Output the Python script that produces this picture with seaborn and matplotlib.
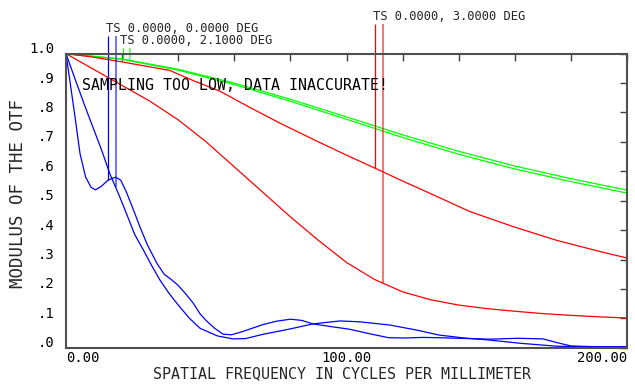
import numpy as np
import pandas as pd
import matplotlib
matplotlib.use("Agg")
import matplotlib.pyplot as plt
from matplotlib.transforms import ScaledTranslation
import seaborn as sns

# ---------------- data ----------------
freq_blue_a = [0, 1.5, 3.2, 5, 7, 9, 10.5, 12.5, 15, 17.7, 19.5, 21.5, 24, 26.4, 29, 32.4,
               35, 37.5, 40, 42.5, 45.4, 47.8, 50, 53, 56, 59, 63, 70, 75, 80, 84, 88, 95,
               101, 108, 115, 121, 127, 133, 140, 151, 161, 170, 176, 180, 190, 200]
mtf_blue_a = [1.0, 0.9, 0.786, 0.66, 0.58, 0.545, 0.537, 0.548, 0.57, 0.58, 0.57, 0.53, 0.47,
              0.41, 0.35, 0.287, 0.25, 0.232, 0.212, 0.185, 0.151, 0.115, 0.092, 0.066, 0.046,
              0.044, 0.055, 0.078, 0.09, 0.097, 0.093, 0.081, 0.071, 0.063, 0.048, 0.034,
              0.033, 0.035, 0.034, 0.032, 0.029, 0.032, 0.03, 0.015, 0.006, 0.003, 0.003]

freq_blue_b = [0, 3, 7, 10, 12.7, 15.7, 19.3, 21.6, 24.5, 27.6, 30.5, 33.5, 36.5, 39.5, 44,
               47.8, 54, 59.5, 64, 70, 80, 88, 97.7, 104.8, 115.5, 125, 133, 142, 151, 162,
               175, 185, 200]
mtf_blue_b = [1.0, 0.92, 0.815, 0.74, 0.672, 0.59, 0.51, 0.455, 0.385, 0.332, 0.28, 0.23,
              0.188, 0.151, 0.1, 0.066, 0.04, 0.03, 0.031, 0.045, 0.064, 0.081, 0.091, 0.088,
              0.077, 0.06, 0.043, 0.033, 0.026, 0.015, 0.005, 0.003, 0.003]

freq_green = [0, 20, 40, 60, 80, 100, 120, 140, 160, 180, 200]
mtf_green_t = [1.0, 0.982, 0.947, 0.9, 0.845, 0.785, 0.724, 0.668, 0.618, 0.575, 0.536]
mtf_green_s = [1.0, 0.981, 0.944, 0.895, 0.838, 0.777, 0.715, 0.658, 0.608, 0.565, 0.526]

freq_red_t = [0, 10, 20, 30, 37, 45, 55, 65, 76, 90, 100, 111, 120, 130, 144, 160, 175, 190, 200]
mtf_red_t = [1.0, 0.988, 0.972, 0.955, 0.943, 0.91, 0.872, 0.82, 0.765, 0.70, 0.655, 0.607,
             0.567, 0.524, 0.463, 0.41, 0.365, 0.328, 0.305]

freq_red_s = [0, 10, 20, 30, 40, 50, 60, 70, 80, 90, 100, 110, 120, 130, 140, 150, 160,
              170, 180, 190, 200]
mtf_red_s = [1.0, 0.946, 0.892, 0.838, 0.775, 0.7, 0.615, 0.53, 0.445, 0.365, 0.29, 0.232,
             0.19, 0.163, 0.145, 0.133, 0.124, 0.116, 0.11, 0.105, 0.101]

field_labels = ["TS 0.0000, 0.0000 DEG", "TS 0.0000, 2.1000 DEG", "TS 0.0000, 3.0000 DEG"]
marker_freq = {"blue": [15.1, 17.7], "green": [20.2, 22.8], "red": [110.3, 112.9]}

x_ticks = [0, 20, 40, 60, 80, 100, 120, 140, 160, 180, 200]
x_tick_labels = ["0.00", "", "", "", "", "100.00", "", "", "", "", "200.00"]
y_ticks = [0.0, 0.1, 0.2, 0.3, 0.4, 0.5, 0.6, 0.7, 0.8, 0.9, 1.0]
y_tick_labels = [".0", ".1", ".2", ".3", ".4", ".5", ".6", ".7", ".8", ".9", "1.0"]

note_text = "SAMPLING TOO LOW, DATA INACCURATE!"
x_label = "SPATIAL FREQUENCY IN CYCLES PER MILLIMETER"
y_label = "MODULUS OF THE OTF"

# ---------------- build long table ----------------
curves = [
    ("blue_a", freq_blue_a, mtf_blue_a),
    ("blue_b", freq_blue_b, mtf_blue_b),
    ("green_t", freq_green, mtf_green_t),
    ("green_s", freq_green, mtf_green_s),
    ("red_t", freq_red_t, mtf_red_t),
    ("red_s", freq_red_s, mtf_red_s),
]
df = pd.concat([pd.DataFrame({"freq": f, "mtf": m, "curve": n}) for n, f, m in curves],
               ignore_index=True)
palette = {"blue_a": "#0000ff", "blue_b": "#0000ff", "green_t": "#00ff00",
           "green_s": "#00ff00", "red_t": "#ff0000", "red_s": "#ff0000"}

# ---------------- figure ----------------
sns.set_theme(style="white")
plt.rcParams["font.family"] = ["DejaVu Sans Mono", "DejaVu Sans"]

W, H = 635, 385
fig = plt.figure(figsize=(W / 100, H / 100), dpi=100)
fig.patch.set_facecolor("white")
ax = fig.add_axes([66 / W, 1 - 347.7 / H, (627 - 66) / W, (347.7 - 53.7) / H])

sns.lineplot(data=df, x="freq", y="mtf", hue="curve", palette=palette, estimator=None,
             sort=False, legend=False, linewidth=0.9, ax=ax)

ax.set_xlim(0, 200)
ax.set_ylim(0, 1.0)
ax.set_xlabel("")
ax.set_ylabel("")

# ticks
ax.set_xticks(x_ticks)
xt = ax.set_xticklabels(x_tick_labels, fontsize=10)
xt[0].set_ha("left")
xt[-1].set_ha("right")
ax.set_yticks(y_ticks)
ax.set_yticklabels(y_tick_labels, fontsize=10)
ax.tick_params(axis="both", direction="in", length=5, width=1.0, color="#404040",
               top=True, right=True, labeltop=False, labelright=False, labelcolor="black")
ax.tick_params(axis="x", pad=2.5)
ax.tick_params(axis="y", pad=8)
for lab in ax.get_yticklabels():
    lab.set_transform(lab.get_transform() + ScaledTranslation(0, 6 / 100, fig.dpi_scale_trans))

for sp in ax.spines.values():
    sp.set_visible(True)
    sp.set_color("#505050")
    sp.set_linewidth(1.5)

# axis labels
fig.text(342 / W, 1 - 374 / H, x_label, ha="center", va="center", fontsize=10.8)
fig.text(18 / W, 1 - 193 / H, y_label, ha="center", va="center", rotation=90, fontsize=12.5)

# warning note
ax.text(5.7, 0.877, note_text, fontsize=10.7, ha="left", va="baseline", color="black")

# field labels with marker lines
label_specs = [
    (field_labels[0], "blue", ("blue_a", "blue_b"), 14.3, 1.074, 1.06),
    (field_labels[1], "green", ("green_t", "green_s"), 19.3, 1.032, 1.019),
    (field_labels[2], "red", ("red_t", "red_s"), 109.5, 1.115, 1.101),
]
curve_lookup = {n: (f, m) for n, f, m in curves}
for text, col, cnames, tx, ty, ltop in label_specs:
    ax.text(tx, ty, text, fontsize=8.7, ha="left", va="baseline", clip_on=False)
    for i, (fx, cn) in enumerate(zip(marker_freq[col], cnames)):
        f, m = curve_lookup[cn]
        yb = float(np.interp(fx, f, m))
        ax.vlines(fx, yb, ltop, colors=palette[cn], linewidth=0.9 if i == 0 else 1.3,
                  alpha=1.0 if i == 0 else 0.6, clip_on=False)

fig.savefig("out.png", dpi=100, facecolor="white")
